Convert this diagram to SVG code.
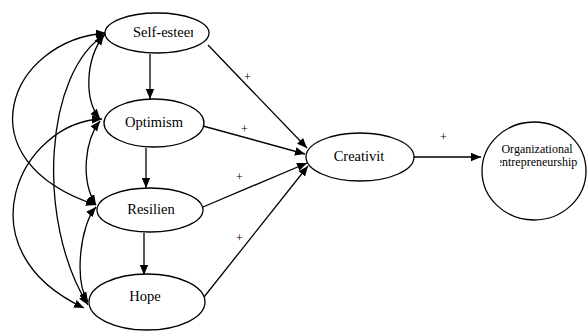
<svg xmlns="http://www.w3.org/2000/svg" width="587" height="331" viewBox="0 0 587 331">
<style>
.n{fill:#fff;stroke:#000;stroke-width:1.3}
text{font-family:'Liberation Serif','DejaVu Serif',serif;fill:#000}
.t{font-size:14.5px}
.s{font-size:12px}
.c{fill:none;stroke:#000;stroke-width:1.3}
.p{font-size:12px}
</style>
<defs>
<marker id="a" viewBox="0 0 10 10" refX="10" refY="5" markerWidth="10" markerHeight="10" markerUnits="userSpaceOnUse" orient="auto-start-reverse">
<path d="M0,0.8 L10,5 L0,9.2 Z" fill="#000"/>
</marker>
<clipPath id="cs"><rect x="100" y="15" width="93" height="40"/></clipPath>
<clipPath id="co"><rect x="500" y="120" width="87" height="100"/></clipPath>
</defs>
<rect width="587" height="331" fill="#fff"/>
<g id="connectors">
<path class="c" d="M150,54 L150,99" marker-end="url(#a)"/>
<path class="c" d="M146,148 L146,188" marker-end="url(#a)"/>
<path class="c" d="M144,233 L144,275" marker-end="url(#a)"/>
<path class="c" d="M208,45 L307,148" marker-end="url(#a)"/>
<path class="c" d="M203,126 L305,154" marker-end="url(#a)"/>
<path class="c" d="M203,207 L307,163" marker-end="url(#a)"/>
<path class="c" d="M204,297 L308,166" marker-end="url(#a)"/>
<path class="c" d="M413,157 L481,157" marker-end="url(#a)"/>
<path class="c" d="M106,33 C10,40 -40,160 96,205" marker-start="url(#a)" marker-end="url(#a)"/>
<path class="c" d="M106,34 C45,70 35,220 88,305" marker-start="url(#a)" marker-end="url(#a)"/>
<path class="c" d="M104,35 C85,60 84,100 100,119" marker-start="url(#a)" marker-end="url(#a)"/>
<path class="c" d="M102,119 C20,122 -40,250 84,308" marker-start="url(#a)" marker-end="url(#a)"/>
<path class="c" d="M100,121 C85,140 80,180 96,205" marker-start="url(#a)" marker-end="url(#a)"/>
<path class="c" d="M96,207 C80,225 74,280 88,302" marker-start="url(#a)" marker-end="url(#a)"/>
<text class="p" x="244" y="81">+</text>
<text class="p" x="241" y="133">+</text>
<text class="p" x="236" y="181">+</text>
<text class="p" x="236" y="242">+</text>
<text class="p" x="440" y="141">+</text>
</g>
<g id="self-esteem">
<ellipse class="n" cx="157" cy="33" rx="52" ry="20"/>
<text class="t" x="133" y="37" clip-path="url(#cs)" font-size="14">Self-esteem</text>
</g>
<g id="optimism">
<ellipse class="n" cx="154" cy="123" rx="50" ry="24"/>
<text class="t" x="154" y="127" text-anchor="middle">Optimism</text>
</g>
<g id="resilien">
<ellipse class="n" cx="150" cy="210" rx="53" ry="22"/>
<text class="t" x="151" y="214" text-anchor="middle">Resilien</text>
</g>
<g id="hope">
<ellipse class="n" cx="147" cy="302" rx="58" ry="28"/>
<text class="t" x="145" y="301" text-anchor="middle">Hope</text>
</g>
<g id="creativit">
<ellipse class="n" cx="360" cy="157" rx="54" ry="24"/>
<text class="t" x="359" y="161" text-anchor="middle">Creativit</text>
</g>
<g id="organizational">
<ellipse class="n" cx="534" cy="171" rx="52" ry="49"/>
<text class="s" x="537" y="153" text-anchor="middle">Organizational</text>
<text class="s" x="537" y="166" text-anchor="middle" clip-path="url(#co)">entrepreneurship</text>
</g>
</svg>
